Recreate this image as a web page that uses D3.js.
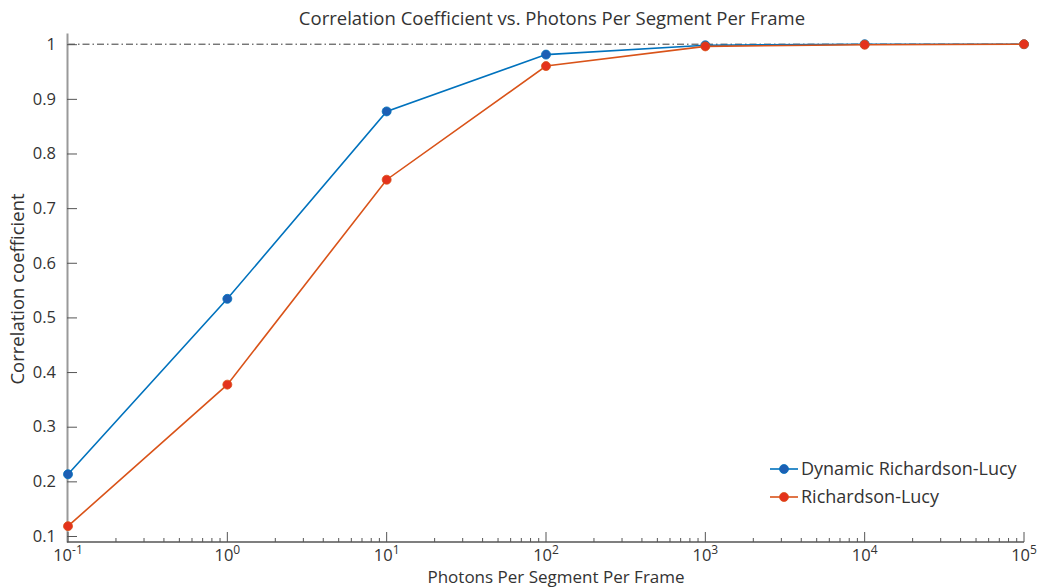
<!DOCTYPE html>
<html>
<head>
<meta charset="utf-8">
<script src="https://cdn.jsdelivr.net/npm/d3@7"></script>
<style>
  body { margin: 0; background: #fff; }
  svg text { font-family: "Open Sans", sans-serif; fill: #333; }
</style>
</head>
<body>
<div id="chart"></div>
<script>
// photons per segment per frame (log x)
const photons = [0.1, 1, 10, 100, 1000, 10000, 100000];
const dynamicRL = [0.213, 0.534, 0.877, 0.981, 0.998, 1.0, 1.0];
const plainRL = [0.118, 0.377, 0.752, 0.960, 0.996, 0.999, 1.0];
const seriesNames = ['Dynamic Richardson-Lucy', 'Richardson-Lucy'];
const yTicks = [0.1, 0.2, 0.3, 0.4, 0.5, 0.6, 0.7, 0.8, 0.9, 1];
const xExponents = [-1, 0, 1, 2, 3, 4, 5];

const W = 1038, H = 588;
const margin = {top: 33, right: 14, bottom: 46, left: 67};

const svg = d3.select('#chart').append('svg')
    .attr('width', W)
    .attr('height', H);

const x = d3.scaleLog()
    .domain([0.1, 100000])
    .range([margin.left + 1, W - margin.right]);

const y = d3.scaleLinear()
    .domain([0.089, 1.0205])
    .range([H - margin.bottom, margin.top]);

const axisColor = '#555';

// reference line at 1 (dash-dot)
svg.append('line')
    .attr('x1', x(0.1)).attr('x2', x(100000))
    .attr('y1', y(1)).attr('y2', y(1))
    .attr('stroke', '#222')
    .attr('stroke-width', 0.9)
    .attr('stroke-dasharray', '7,3,1.5,3');

// y axis, ticks pointing inward
const yAxis = d3.axisRight(y)
    .tickValues(yTicks)
    .tickSize(10)
    .tickSizeOuter(0)
    .tickFormat(d => d === 1 ? '1' : d3.format('.1f')(d));

const gy = svg.append('g')
    .attr('transform', 'translate(' + margin.left + ',0)')
    .call(yAxis);
gy.select('.domain').attr('stroke', '#999').attr('stroke-width', 2);
gy.selectAll('.tick line').attr('stroke', axisColor);
gy.selectAll('.tick text')
    .attr('x', -11)
    .attr('text-anchor', 'end')
    .style('font-size', '16.5px');

// x axis with minor log ticks, inward
const majors = xExponents.map(e => Math.pow(10, e));
const minors = [];
for (let e = -1; e < 5; e++) {
  for (let k = 2; k < 10; k++) minors.push(k * Math.pow(10, e));
}
const xBase = H - margin.bottom;
const gx = svg.append('g');
gx.append('line')
    .attr('x1', margin.left).attr('x2', x(100000))
    .attr('y1', xBase).attr('y2', xBase)
    .attr('stroke', axisColor).attr('stroke-width', 1.3);
gx.selectAll('.minor')
    .data(minors)
  .enter().append('line')
    .attr('x1', d => x(d)).attr('x2', d => x(d))
    .attr('y1', xBase).attr('y2', xBase - 4)
    .attr('stroke', axisColor);
gx.selectAll('.major')
    .data(majors)
  .enter().append('line')
    .attr('x1', d => x(d)).attr('x2', d => x(d))
    .attr('y1', xBase).attr('y2', xBase - 10)
    .attr('stroke', axisColor);
const labels = gx.selectAll('.xl')
    .data(xExponents)
  .enter().append('text')
    .attr('x', d => x(Math.pow(10, d)))
    .attr('y', xBase + 19)
    .attr('text-anchor', 'middle')
    .style('font-size', '16.5px');
labels.append('tspan').text('10');
labels.append('tspan')
    .attr('dy', -7)
    .style('font-size', '12px')
    .text(d => d);

// series
const colors = ['#0072BD', '#D95319'];
const markerColors = ['#1d5fb4', '#e4321c'];
const series = [dynamicRL, plainRL];
const line = d3.line()
    .x(d => x(d[0]))
    .y(d => y(d[1]));

series.forEach(function(vals, i) {
  const pts = photons.map((p, j) => [p, vals[j]]);
  svg.append('path')
      .datum(pts)
      .attr('d', line)
      .attr('fill', 'none')
      .attr('stroke', colors[i])
      .attr('stroke-width', 1.6);
  svg.selectAll('.m' + i)
      .data(pts)
    .enter().append('circle')
      .attr('cx', d => x(d[0]))
      .attr('cy', d => y(d[1]))
      .attr('r', 4.5)
      .attr('fill', markerColors[i])
      .attr('stroke', colors[i])
      .attr('stroke-width', 0.8);
});

// legend
const legend = svg.append('g').attr('transform', 'translate(770,469)');
seriesNames.forEach(function(name, i) {
  const g = legend.append('g').attr('transform', 'translate(0,' + (i * 28) + ')');
  g.append('line')
      .attr('x1', 0).attr('x2', 28)
      .attr('stroke', colors[i]).attr('stroke-width', 1.6);
  g.append('circle')
      .attr('cx', 14).attr('r', 4.5)
      .attr('fill', markerColors[i]).attr('stroke', colors[i]).attr('stroke-width', 0.8);
  g.append('text')
      .attr('x', 31).attr('y', 6)
      .style('font-size', '18px')
      .text(name);
});

// title and axis labels
svg.append('text')
    .attr('x', 552).attr('y', 25)
    .attr('text-anchor', 'middle')
    .style('font-size', '18.5px')
    .text('Correlation Coefficient vs. Photons Per Segment Per Frame');

svg.append('text')
    .attr('x', 556).attr('y', 583)
    .attr('text-anchor', 'middle')
    .style('font-size', '17px')
    .text('Photons Per Segment Per Frame');

svg.append('text')
    .attr('transform', 'translate(24,289) rotate(-90)')
    .attr('text-anchor', 'middle')
    .style('font-size', '18.5px')
    .text('Correlation coefficient');
</script>
</body>
</html>
